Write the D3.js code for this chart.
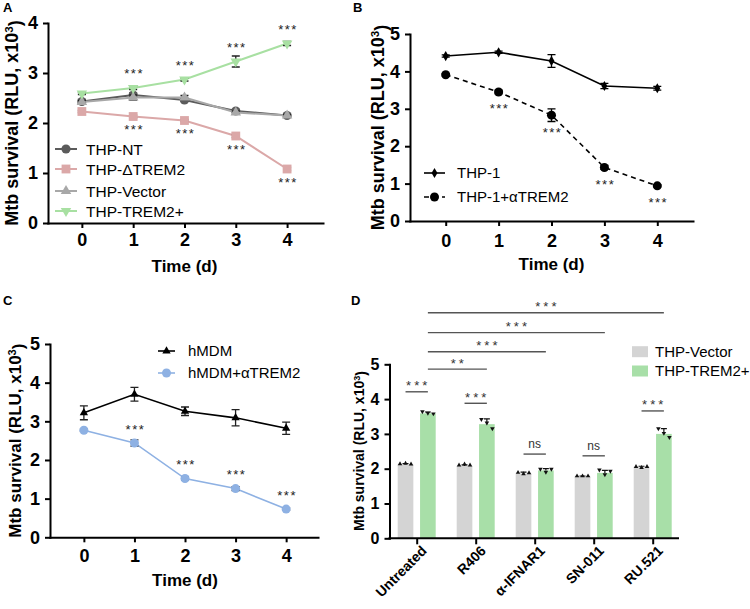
<!DOCTYPE html>
<html>
<head>
<meta charset="utf-8">
<script src="https://cdn.jsdelivr.net/npm/d3@7"></script>
<style>
  body { margin: 0; background: #fff; }
  svg { font-family: "Liberation Sans", Arial, sans-serif; }
</style>
</head>
<body>
<svg id="fig" width="750" height="609"></svg>
<script>
// ---- data ----
var days = [0, 1, 2, 3, 4];

// A
var aNames = ["THP-NT", "THP-\u0394TREM2", "THP-Vector", "THP-TREM2+"];
var aMean = [
  [2.43, 2.56, 2.46, 2.24, 2.15],
  [2.23, 2.13, 2.05, 1.74, 1.08],
  [2.42, 2.51, 2.51, 2.21, 2.15],
  [2.59, 2.70, 2.87, 3.23, 3.59]
];
var aErr = [
  [0.03, 0.04, 0.03, 0.03, 0.02],
  [0.02, 0.03, 0.02, 0.03, 0.03],
  [0.03, 0.05, 0.04, 0.03, 0.02],
  [0.02, 0.03, 0.03, 0.11, 0.04]
];
var aSigUp = ["", "***", "***", "***", "***"];   // over THP-TREM2+
var aSigDown = ["", "***", "***", "***", "***"]; // under THP-ΔTREM2

// B
var bNames = ["THP-1", "THP-1+\u03b1TREM2"];
var bMean = [
  [4.41, 4.51, 4.28, 3.61, 3.55],
  [3.91, 3.45, 2.83, 1.43, 0.94]
];
var bErr = [
  [0.03, 0.03, 0.17, 0.07, 0.05],
  [0.03, 0.05, 0.17, 0.05, 0.03]
];
var bSig = ["", "***", "***", "***", "***"];

// C
var cNames = ["hMDM", "hMDM+\u03b1TREM2"];
var cMean = [
  [3.22, 3.70, 3.26, 3.09, 2.82],
  [2.77, 2.44, 1.52, 1.26, 0.73]
];
var cErr = [
  [0.18, 0.18, 0.11, 0.21, 0.16],
  [0.03, 0.08, 0.04, 0.05, 0.03]
];
var cSig = ["", "***", "***", "***", "***"];

// D
var dGroups = ["Untreated", "R406", "\u03b1-IFNAR1", "SN-011", "RU.521"];
var dSeries = ["THP-Vector", "THP-TREM2+"];
var dMean = [
  [2.13, 2.08, 1.86, 1.78, 2.04],
  [3.59, 3.28, 1.95, 1.88, 3.00]
];
var dErr = [
  [0.02, 0.03, 0.04, 0.01, 0.03],
  [0.04, 0.15, 0.05, 0.07, 0.15]
];
var dReps = [
  [[2.14, 2.15, 2.13], [2.10, 2.13, 2.10], [1.89, 1.85, 1.88], [1.79, 1.79, 1.79], [2.06, 2.03, 2.06]],
  [[3.64, 3.60, 3.58], [3.42, 3.32, 3.15], [1.99, 1.90, 1.99], [1.97, 1.83, 1.93], [3.15, 3.02, 2.90]]
];
var dPairSig = ["***", "***", "ns", "ns", "***"];
var dPairLevel = [4.21, 3.88, 2.42, 2.37, 3.66];
var dCompTo = [1, 2, 3, 4];
var dCompSig = ["**", "***", "***", "***"];
var dCompLevel = [4.86, 5.36, 5.91, 6.48];

// ---- drawing ----
var svg = d3.select("#fig");

function styleAxis(ax, fs) {
  ax.select(".domain").attr("stroke", "#000").attr("stroke-width", 2).attr("stroke-linecap", "square");
  ax.selectAll(".tick line").attr("stroke", "#000").attr("stroke-width", 2);
  ax.selectAll(".tick text").attr("fill", "#000").style("font-size", fs + "px").style("font-weight", "bold");
}

function yLabel(g, x, yMid, fs) {
  var t = g.append("text")
    .attr("transform", "translate(" + x + "," + yMid + ") rotate(-90)")
    .attr("text-anchor", "middle")
    .style("font-size", fs + "px").style("font-weight", "bold");
  t.append("tspan").text("Mtb survival (RLU, x10");
  t.append("tspan").attr("dy", "-0.45em").style("font-size", "0.65em").text("3");
  t.append("tspan").attr("dy", "0.45em").text(")");
}

function symbolPath(kind, size) {
  var type = {circle: d3.symbolCircle, square: d3.symbolSquare, triangle: d3.symbolTriangle,
              down: d3.symbolTriangle, diamond: d3.symbolDiamond}[kind];
  return d3.symbol().type(type).size(size)();
}

function drawMarker(g, kind, size, color, cx, cy) {
  g.append("path")
    .attr("d", symbolPath(kind, size))
    .attr("fill", color)
    .attr("transform", "translate(" + cx + "," + cy + ")" + (kind === "down" ? " rotate(180)" : ""));
}

function linePanel(p) {
  var g = svg.append("g");
  var x = d3.scaleLinear().domain(p.xDom).range(p.xRange);
  var y = d3.scaleLinear().domain(p.yDom).range(p.yRange);

  var ya = g.append("g").attr("transform", "translate(" + p.xRange[0] + ",0)")
    .call(d3.axisLeft(y).ticks(p.yDom[1]).tickFormat(d3.format("d")).tickSize(5).tickSizeOuter(0).tickPadding(5));
  var xa = g.append("g").attr("transform", "translate(0," + p.yRange[0] + ")")
    .call(d3.axisBottom(x).tickValues(days).tickFormat(d3.format("d")).tickSize(5).tickSizeOuter(0).tickPadding(p.xPad));
  styleAxis(ya, p.tickFs);
  styleAxis(xa, p.tickFs);

  g.append("text").attr("x", x(2)).attr("y", p.xLabY).attr("text-anchor", "middle")
    .style("font-size", p.labFs + "px").style("font-weight", "bold").text("Time (d)");
  yLabel(g, p.yLabX, (p.yRange[0] + p.yRange[1]) / 2, p.yLabFs);
  g.append("text").attr("x", p.letter[1]).attr("y", p.letter[2])
    .style("font-size", "13px").style("font-weight", "bold").text(p.letter[0]);

  var line = d3.line().x(function (d, i) { return x(days[i]); }).y(function (d) { return y(d); });

  p.series.forEach(function (s, si) {
    var sg = g.append("g");
    sg.append("path").datum(p.mean[si])
      .attr("fill", "none").attr("stroke", s.color).attr("stroke-width", p.lw)
      .attr("stroke-dasharray", s.dash || null)
      .attr("d", line);
    p.mean[si].forEach(function (m, i) {
      var e = p.err[si][i], cx = x(days[i]);
      sg.append("path")
        .attr("d", "M" + cx + "," + y(m - e) + "V" + y(m + e) +
          "M" + (cx - 4) + "," + y(m - e) + "H" + (cx + 4) +
          "M" + (cx - 4) + "," + y(m + e) + "H" + (cx + 4))
        .attr("stroke", p.errColor || s.color).attr("stroke-width", 1.3).attr("fill", "none");
      drawMarker(sg, s.marker, s.size, s.color, cx, y(m));
    });
  });

  // significance stars
  p.stars.forEach(function (st) {
    st.labels.forEach(function (lab, i) {
      if (!lab) return;
      var cy = y(p.mean[st.series][i]) + st.off;
      g.append("text").attr("x", x(days[i]) + 1).attr("y", cy + 0.57 * 13)
        .attr("text-anchor", "middle").attr("fill", "#222")
        .style("font-size", "13px").style("letter-spacing", "1.5px").text(lab);
    });
  });

  // legend
  p.series.forEach(function (s, si) {
    var ly = p.legend.rows[si];
    g.append("line").attr("x1", p.legend.x0).attr("x2", p.legend.x1).attr("y1", ly).attr("y2", ly)
      .attr("stroke", s.color).attr("stroke-width", p.lw).attr("stroke-dasharray", s.dash || null);
    drawMarker(g, s.marker, s.size, s.color, (p.legend.x0 + p.legend.x1) / 2, ly);
    g.append("text").attr("x", p.legend.tx).attr("y", ly).attr("dy", "0.36em")
      .style("font-size", p.legend.fs + "px").text(s.name);
  });
}

// Panel A
linePanel({
  letter: ["A", 3, 12],
  xDom: [-0.66, 4.7], xRange: [48, 323],
  yDom: [0, 4], yRange: [223, 23],
  tickFs: 18, labFs: 17, yLabFs: 18, xPad: 5, xLabY: 272, yLabX: 18,
  lw: 2,
  mean: aMean, err: aErr, errColor: "#222",
  series: [
    {name: aNames[0], color: "#5b5b5b", marker: "circle", size: 66},
    {name: aNames[1], color: "#dba8a8", marker: "square", size: 78},
    {name: aNames[2], color: "#a8a8a8", marker: "triangle", size: 48},
    {name: aNames[3], color: "#a8e0a2", marker: "down", size: 48}
  ],
  stars: [{series: 3, labels: aSigUp, off: -17}, {series: 1, labels: aSigDown, off: 10.5}],
  legend: {x0: 55, x1: 77, tx: 86, rows: [149, 169, 191, 211], fs: 15.5}
});

// Panel B
linePanel({
  letter: ["B", 353, 12],
  xDom: [-0.675, 4.675], xRange: [410, 693],
  yDom: [0, 5], yRange: [221, 34],
  tickFs: 18, labFs: 17, yLabFs: 18, xPad: 8, xLabY: 270, yLabX: 384,
  lw: 1.6,
  mean: bMean, err: bErr,
  series: [
    {name: bNames[0], color: "#000", marker: "diamond", size: 30},
    {name: bNames[1], color: "#000", marker: "circle", size: 64, dash: "5,4"}
  ],
  stars: [{series: 1, labels: bSig, off: 14}],
  legend: {x0: 424, x1: 445, tx: 457, rows: [173, 197], fs: 15}
});

// Panel C
linePanel({
  letter: ["C", 3, 305],
  xDom: [-0.67, 4.63], xRange: [50, 318],
  yDom: [0, 5], yRange: [537.3, 344],
  tickFs: 18, labFs: 17, yLabFs: 17, xPad: 7, xLabY: 586, yLabX: 21,
  lw: 1.6,
  mean: cMean, err: cErr, errColor: "#222",
  series: [
    {name: cNames[0], color: "#000", marker: "triangle", size: 30},
    {name: cNames[1], color: "#8eb1e3", marker: "circle", size: 64}
  ],
  stars: [{series: 1, labels: cSig, off: -16.7}],
  legend: {x0: 158, x1: 175, tx: 188, rows: [351, 373], fs: 15}
});

// Panel D
(function () {
  var g = svg.append("g");
  var colors = ["#d4d4d4", "#a8dfa8"];
  var axL = 389.5, axR = 679;
  var x = d3.scalePoint().domain(dGroups).range([416.7, 652.7]);
  var sub = d3.scaleBand().domain(dSeries).range([-19, 19]).paddingInner(0.3);
  var y = d3.scaleLinear().domain([0, 5]).range([538.3, 364.3]);
  var bw = sub.bandwidth();
  function cx(gi, si) { return x(dGroups[gi]) + sub(dSeries[si]) + bw / 2; }

  // bars
  dSeries.forEach(function (s, si) {
    g.selectAll(null).data(dMean[si]).enter().append("rect")
      .attr("x", function (d, gi) { return cx(gi, si) - bw / 2; })
      .attr("y", function (d) { return y(d); })
      .attr("width", bw)
      .attr("height", function (d) { return y(0) - y(d); })
      .attr("fill", colors[si]);
  });
  // error bars + replicates
  dSeries.forEach(function (s, si) {
    dMean[si].forEach(function (m, gi) {
      var e = dErr[si][gi], c = cx(gi, si);
      g.append("path")
        .attr("d", "M" + c + "," + y(m) + "V" + y(m + e) + "M" + (c - 3) + "," + y(m + e) + "H" + (c + 3))
        .attr("stroke", "#111").attr("stroke-width", 1.2).attr("fill", "none");
      dReps[si][gi].forEach(function (v, k) {
        drawMarker(g, si === 0 ? "triangle" : "down", 9, "#111", c + (k - 1) * 5.5, y(v));
      });
    });
  });

  // axes
  var ya = g.append("g").attr("transform", "translate(" + axL + ",0)")
    .call(d3.axisLeft(y).ticks(5).tickFormat(d3.format("d")).tickSize(5).tickSizeOuter(0).tickPadding(5));
  styleAxis(ya, 16);
  var xa = g.append("g").attr("transform", "translate(0," + y(0) + ")")
    .call(d3.axisBottom(x).tickSize(6).tickSizeOuter(0));
  xa.select(".domain").remove();
  xa.selectAll(".tick line").attr("stroke", "#000").attr("stroke-width", 2);
  xa.selectAll(".tick text")
    .attr("fill", "#000").attr("x", 0).attr("y", 0).attr("dy", "0.35em")
    .attr("transform", "translate(7,10) rotate(-45)")
    .style("text-anchor", "end").style("font-size", "14px").style("font-weight", "bold");
  g.append("line").attr("x1", axL - 1).attr("x2", axR).attr("y1", y(0)).attr("y2", y(0))
    .attr("stroke", "#000").attr("stroke-width", 2);

  yLabel(g, 364, 451, 14);
  g.append("text").attr("x", 351).attr("y", 305)
    .style("font-size", "13px").style("font-weight", "bold").text("D");

  function sigLine(x1, x2, lvl, lab) {
    var ly = y(lvl);
    g.append("line").attr("x1", x1).attr("x2", x2).attr("y1", ly).attr("y2", ly)
      .attr("stroke", "#555").attr("stroke-width", 1.4);
    var ns = lab === "ns";
    g.append("text").attr("x", (x1 + x2) / 2 + (ns ? 0 : 1.5)).attr("y", ns ? ly - 6 : ly - 9 + 0.57 * 13)
      .attr("text-anchor", "middle").attr("fill", "#333")
      .style("font-size", ns ? "12px" : "13px").style("letter-spacing", ns ? "0px" : "3px").text(lab);
  }
  dPairSig.forEach(function (lab, gi) { sigLine(cx(gi, 0), cx(gi, 1), dPairLevel[gi], lab); });
  dCompTo.forEach(function (gi, k) { sigLine(cx(0, 1), cx(gi, 1), dCompLevel[k], dCompSig[k]); });

  // legend
  dSeries.forEach(function (s, si) {
    var ly = [351.7, 371][si];
    g.append("rect").attr("x", 632).attr("y", ly - 5.5).attr("width", 16).attr("height", 11).attr("fill", colors[si]);
    g.append("text").attr("x", 655).attr("y", ly).attr("dy", "0.36em").style("font-size", "15px").text(s);
  });
})();
</script>
</body>
</html>
